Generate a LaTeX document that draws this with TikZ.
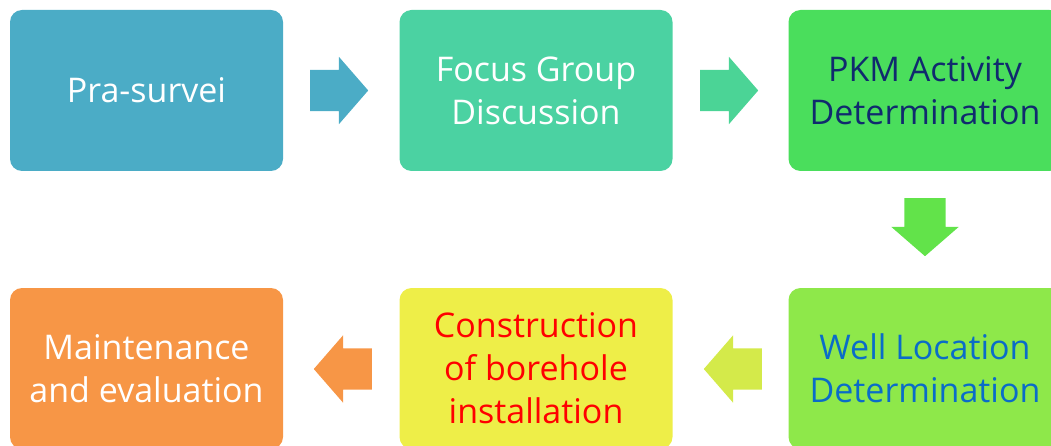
\documentclass[tikz,border=0pt]{standalone}
\usepackage{fontspec}
\setmainfont{Open Sans}
\usetikzlibrary{shapes.arrows}
\definecolor{cA}{HTML}{4BACC6}
\definecolor{cB}{HTML}{4BD2A2}
\definecolor{cBa}{HTML}{4BD496}
\definecolor{cC}{HTML}{4ADE5C}
\definecolor{cCa}{HTML}{62E34A}
\definecolor{cD}{HTML}{8EE84A}
\definecolor{cDa}{HTML}{D4EA4A}
\definecolor{cE}{HTML}{EEEE48}
\definecolor{cF}{HTML}{F79646}
\definecolor{tNavy}{HTML}{102A6E}
\definecolor{tBlue}{HTML}{0A6CC8}
\tikzset{
  stepbox/.style={rounded corners=12pt, minimum width=273pt, minimum height=161pt,
    inner sep=0pt, align=center, font=\fontsize{34}{43}\selectfont},
  flowarrow/.style={single arrow, anchor=tail, inner xsep=0pt, inner ysep=20.5pt,
    text height=0pt, text depth=0pt, text width=0pt, minimum height=58pt,
    single arrow head extend=13pt, single arrow tip angle=98}
}
\begin{document}
\begin{tikzpicture}[x=1pt,y=-1pt]
\useasboundingbox (0,0) rectangle (1051,446);
\begin{scope}
\clip (0,0) rectangle (1051,446);
% top row
\node[stepbox, fill=cA, text=white] (pra) at (146.5,90.5) {Pra-survei};
\node[stepbox, fill=cB, text=white] (fgd) at (536,90.5) {Focus Group\\Discussion};
\node[stepbox, fill=cC, text=tNavy] (pkm) at (925,90.5) {PKM Activity\\Determination};
% bottom row
\node[stepbox, fill=cD, text=tBlue] (well) at (925,368.5) {Well Location\\Determination};
\node[stepbox, fill=cE, text=red] (cons) at (536,368.5) {Construction\\of borehole\\installation};
\node[stepbox, fill=cF, text=white] (main) at (146.5,368.5) {Maintenance\\and evaluation};
\end{scope}
% block arrows leading from one step to the next (placed by their tails)
\node[flowarrow, fill=cA] (a1) at (310,90.5) {};
\node[flowarrow, fill=cBa] (a2) at (700,90.5) {};
\node[flowarrow, fill=cCa, rotate=-90] (a3) at (925,198) {};
\node[flowarrow, fill=cDa, rotate=180] (a4) at (762,369) {};
\node[flowarrow, fill=cF, rotate=180] (a5) at (372,369) {};
\end{tikzpicture}
\end{document}
